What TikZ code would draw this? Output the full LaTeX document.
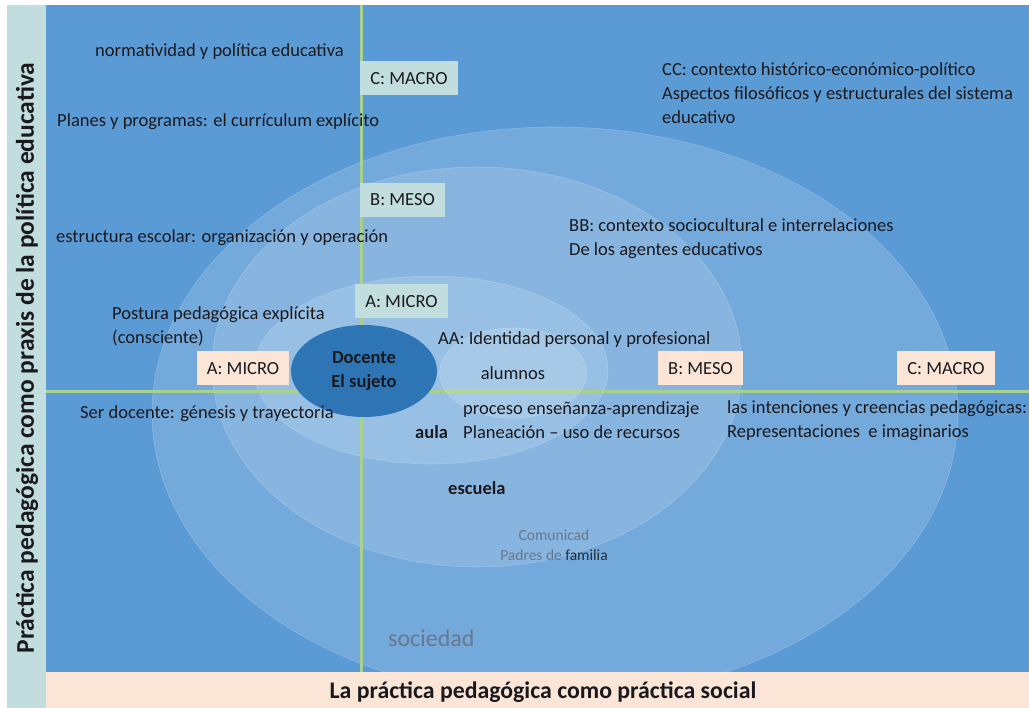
\documentclass[tikz,border=0pt]{standalone}
\usepackage{fontspec}
\setmainfont{Carlito}
\usetikzlibrary{shapes.geometric}

\definecolor{bgblue}{RGB}{91,155,213}
\definecolor{subjblue}{RGB}{46,117,182}
\definecolor{axisgreen}{RGB}{169,209,142}
\definecolor{lvlpeach}{RGB}{251,229,214}
\definecolor{lvlteal}{RGB}{193,221,221}
\definecolor{inktext}{RGB}{26,26,30}
\definecolor{faintink}{RGB}{105,120,140}

\tikzset{
  ring/.style={fill=white, fill opacity=0.15, draw=white, draw opacity=0.22, line width=0.6pt},
  axis/.style={draw=axisgreen, line width=3pt},
  lvl/.style={inner xsep=0pt, inner ysep=0pt, minimum height=34, text=inktext,
    font=\fontsize{18.5}{22}\selectfont},
  lvlv/.style={lvl, fill=lvlteal},
  lvlh/.style={lvl, fill=lvlpeach},
  txt/.style={anchor=west, align=left, inner sep=0pt, text=inktext,
    font=\fontsize{18.5}{24}\selectfont},
  bold/.style={txt, font=\fontsize{18.5}{24}\selectfont\bfseries}
}

\begin{document}
\begin{tikzpicture}[x=1pt, y=-1pt]
  \useasboundingbox (0,0) rectangle (1029,708);
  \fill[white] (0,0) rectangle (1029,708);
  % bands and background
  \fill[lvlteal] (7,5) rectangle (46,708);
  \fill[bgblue] (46,5) rectangle (1029,672);
  \fill[lvlpeach] (46,672) rectangle (1029,708);
  \node[rotate=90, inner sep=0pt, text=inktext, font=\fontsize{25.5}{28}\selectfont\bfseries]
    (ytitle) at (27,358) {Práctica pedagógica como praxis de la política educativa};
  \node[inner sep=0pt, text=inktext, font=\fontsize{23.8}{26}\selectfont\bfseries]
    (xtitle) at (543,692) {La práctica pedagógica como práctica social};

  % rings: sociedad, escuela, aula
  \begin{scope}
    \clip (46,5) rectangle (1029,672);
    \path[ring] (555,413) ellipse [x radius=403, y radius=286];
    \path[ring] (477,367) ellipse [x radius=265, y radius=200];
    \path[ring] (431,370) ellipse [x radius=177, y radius=94];
  \end{scope}

  % axes
  \coordinate (vtop) at (361,5);
  \coordinate (vbot) at (361,672);
  \coordinate (hleft) at (46,392);
  \coordinate (hright) at (1029,392);
  \draw[axis] (vtop) -- (vbot);
  \draw[axis] (hleft) -- (hright);

  \node[ring, ellipse, text opacity=1, minimum width=147, minimum height=90,
    text=inktext, font=\fontsize{18.5}{22}\selectfont] (alumnos) at (513,373) {alumnos};
  \node[ellipse, fill=subjblue, minimum width=146, minimum height=92, align=center,
    text=inktext, font=\fontsize{18.5}{24}\selectfont\bfseries] (docente) at (364,371)
    {Docente\\El sujeto};

  % level labels
  \node[lvlv, minimum width=98] (vmacro) at (409,78.5) {C: MACRO};
  \node[lvlv, minimum width=85] (vmeso) at (402.5,200) {B: MESO};
  \node[lvlv, minimum width=93] (vmicro) at (401.5,301.5) {A: MICRO};
  \node[lvlh, minimum width=92] (hmicro) at (243,368.5) {A: MICRO};
  \node[lvlh, minimum width=85] (hmeso) at (700.5,368.5) {B: MESO};
  \node[lvlh, minimum width=98] (hmacro) at (946,368.5) {C: MACRO};

  % texts
  \node[txt] (norma) at (95,52) {normatividad y política educativa};
  \node[txt] (planes) at (57,122) {Planes y programas: el currículum explícito};
  \node[txt] (estruct) at (56,238) {estructura escolar: organización y operación};
  \node[txt] (postura) at (112,326) {Postura pedagógica explícita\\(consciente)};
  \node[txt] (ser) at (80,414) {Ser docente: génesis y trayectoria};
  \node[txt] (aa) at (438,340) {AA: Identidad personal y profesional};
  \node[txt] (proceso) at (463,420.5) {proceso enseñanza-aprendizaje\\Planeación -- uso de recursos};
  \node[bold] (aula) at (415,432) {aula};
  \node[bold] (escuela) at (448,488) {escuela};
  \node[txt, font=\fontsize{15.5}{20}\selectfont, align=center, anchor=center, text=faintink]
    (comunidad) at (554,545) {Comunicad\\Padres de \textcolor{inktext!80!faintink}{familia}};
  \node[txt, font=\fontsize{24}{28}\selectfont, text=faintink] (sociedad) at (388,638) {sociedad};
  \node[txt] (cc) at (662,93)
    {CC: contexto histórico-económico-político\\Aspectos filosóficos y estructurales del sistema\\educativo};
  \node[txt] (bb) at (569,238.5) {BB: contexto sociocultural e interrelaciones\\De los agentes educativos};
  \node[txt] (intenc) at (727,420.5) {las intenciones y creencias pedagógicas:\\Representaciones\ \ e imaginarios};
\end{tikzpicture}
\end{document}
